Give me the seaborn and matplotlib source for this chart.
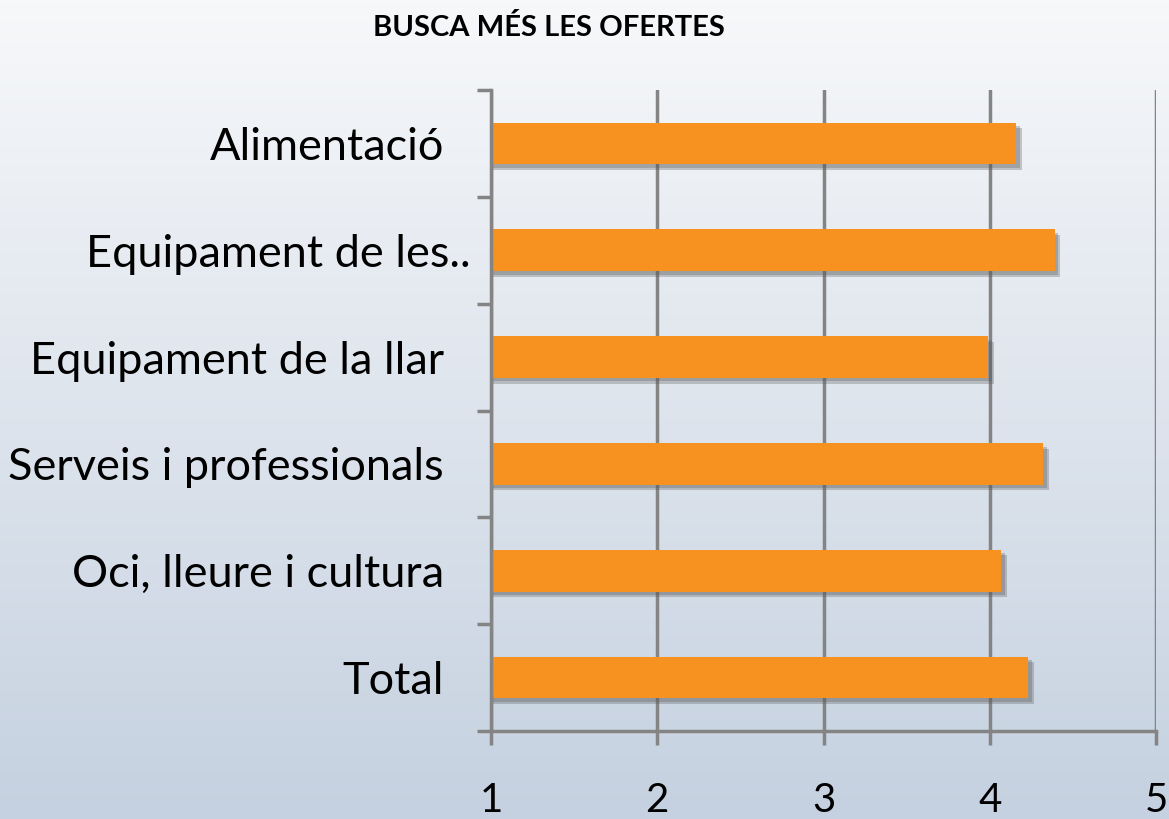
import matplotlib
matplotlib.use("Agg")
import matplotlib.pyplot as plt
import matplotlib.patheffects as pe
from matplotlib.colors import LinearSegmentedColormap
from matplotlib.transforms import ScaledTranslation
import numpy as np
import pandas as pd
import seaborn as sns

categories = ["Alimentació", "Equipament de les..", "Equipament de la llar",
              "Serveis i professionals", "Oci, lleure i cultura", "Total"]
values = [4.16, 4.39, 3.99, 4.32, 4.07, 4.23]
x_ticks = [1, 2, 3, 4, 5]
title = "BUSCA MÉS LES OFERTES"

sns.set_theme(style="white")
plt.rcParams["font.family"] = ["Lato", "DejaVu Sans"]

GRAY = "#848484"
ORANGE = "#F7911F"

fig = plt.figure(figsize=(11.69, 8.19), dpi=100)

# gradient background
bg = fig.add_axes([0, 0, 1, 1], zorder=-10)
grad = np.linspace(0, 1, 256).reshape(-1, 1)
cmap = LinearSegmentedColormap.from_list("bg", ["#F7F8FA", "#C5D1E0"])
bg.imshow(grad, aspect="auto", cmap=cmap, extent=[0, 1, 0, 1], origin="upper")
bg.axis("off")

ax = fig.add_axes([0.42, 0.1075, 0.569, 0.7825])
ax.patch.set_alpha(0)

df = pd.DataFrame({"cat": categories, "val": values})
sns.barplot(data=df, x="val", y="cat", color=ORANGE, saturation=1, width=0.39, ax=ax)
for p in ax.patches:
    p.set_edgecolor("none")
    p.set_path_effects([pe.SimplePatchShadow(offset=(4, -4), shadow_rgbFace="#5a5a5a", alpha=0.3),
                        pe.SimplePatchShadow(offset=(2.5, -2.5), shadow_rgbFace="#5a5a5a", alpha=0.3),
                        pe.Normal()])

ax.set_xlim(1, 5)
ax.set_ylim(5.5, -0.5)
ax.set_xticks(x_ticks)
ax.set_xticklabels([str(t) for t in x_ticks])
ax.set_xlabel("")
ax.set_ylabel("")

for s in ["top", "right"]:
    ax.spines[s].set_visible(False)
for s in ["left", "bottom"]:
    ax.spines[s].set_color(GRAY)
    ax.spines[s].set_linewidth(2.5)

ax.grid(axis="x", color=GRAY, linewidth=2.5)
ax.set_axisbelow(True)

ax.set_yticks(np.arange(-0.5, len(categories)), minor=True)
ax.tick_params(axis="y", which="major", length=0, pad=34, labelsize=32.5, labelcolor="black")
ax.tick_params(axis="y", which="minor", length=10, width=2.5, color=GRAY, left=True)
ax.tick_params(axis="x", which="major", length=10, width=2.5, color=GRAY, bottom=True,
               pad=27, labelsize=29, labelcolor="black")

# truncated label sits further right in the original
lab = ax.get_yticklabels()[1]
lab.set_transform(lab.get_transform() + ScaledTranslation(0.27, 0, fig.dpi_scale_trans))

fig.text(0.47, 0.966, title, ha="center", va="center", fontsize=21, fontweight="bold",
         color="black")

fig.savefig("out.png", dpi=100)
